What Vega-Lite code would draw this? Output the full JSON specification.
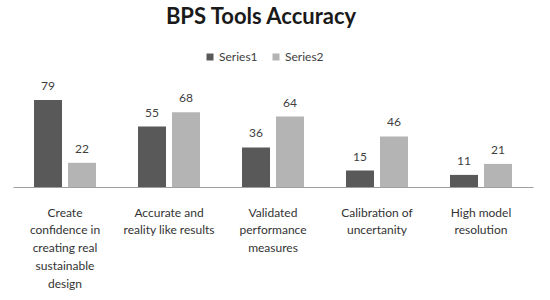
{
  "$schema": "https://vega.github.io/schema/vega-lite/v6.json",
  "width": 520,
  "height": 99,
  "autosize": {"type": "none"},
  "padding": {"left": 13, "top": 88, "right": 17, "bottom": 113},
  "background": "white",
  "title": {
    "text": "BPS Tools Accuracy",
    "font": "Lato",
    "fontSize": 22,
    "fontWeight": "bold",
    "color": "#1a1a1a",
    "anchor": "middle",
    "offset": 22,
    "dx": -12
  },
  "config": {
    "view": {"stroke": null},
    "font": "Lato"
  },
  "data": {
    "values": [
      {"category": "Create|confidence in|creating real|sustainable|design", "series": "Series1", "value": 79},
      {"category": "Create|confidence in|creating real|sustainable|design", "series": "Series2", "value": 22},
      {"category": "Accurate and|reality like results", "series": "Series1", "value": 55},
      {"category": "Accurate and|reality like results", "series": "Series2", "value": 68},
      {"category": "Validated|performance|measures", "series": "Series1", "value": 36},
      {"category": "Validated|performance|measures", "series": "Series2", "value": 64},
      {"category": "Calibration of|uncertanity", "series": "Series1", "value": 15},
      {"category": "Calibration of|uncertanity", "series": "Series2", "value": 46},
      {"category": "High model|resolution", "series": "Series1", "value": 11},
      {"category": "High model|resolution", "series": "Series2", "value": 21}
    ]
  },
  "encoding": {
    "x": {
      "field": "category",
      "type": "nominal",
      "sort": null,
      "scale": {"paddingInner": 0.404, "paddingOuter": 0.202},
      "axis": {
        "title": null,
        "labelAngle": 0,
        "labelExpr": "split(datum.label, '|')",
        "labelFontSize": 12,
        "labelColor": "#333333",
        "labelLineHeight": 17.8,
        "labelPadding": 20,
        "labelBaseline": "top",
        "ticks": false,
        "domainColor": "#a0a0a0",
        "domainWidth": 1,
        "labelLimit": 0
      }
    },
    "xOffset": {
      "field": "series",
      "type": "nominal",
      "scale": {"paddingInner": 0.176, "paddingOuter": 0}
    },
    "y": {
      "field": "value",
      "type": "quantitative",
      "scale": {"domain": [0, 90]},
      "axis": null
    }
  },
  "layer": [
    {
      "mark": {"type": "bar"},
      "encoding": {
        "color": {
          "field": "series",
          "type": "nominal",
          "scale": {"domain": ["Series1", "Series2"], "range": ["#595959", "#b4b4b4"]},
          "legend": {
            "title": null,
            "orient": "none",
            "direction": "horizontal",
            "legendX": 191,
            "legendY": -37,
            "symbolType": "square",
            "symbolSize": 49,
            "symbolStrokeWidth": 0,
            "labelFontSize": 12,
            "labelColor": "#404040",
            "columnPadding": 12,
            "labelOffset": 3
          }
        }
      }
    },
    {
      "mark": {"type": "text", "baseline": "bottom", "dy": -7, "fontSize": 12, "color": "#404040"},
      "encoding": {
        "text": {"field": "value", "type": "quantitative"}
      }
    }
  ]
}
